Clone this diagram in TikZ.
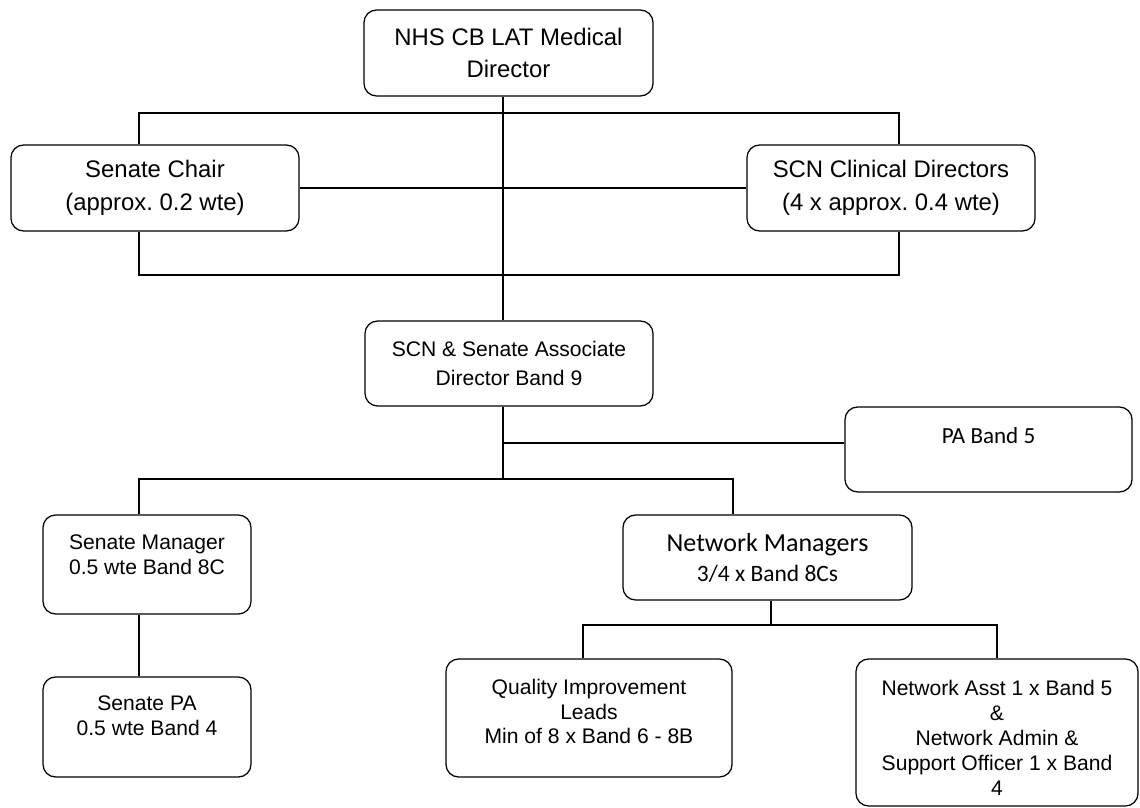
\documentclass[tikz,border=0pt]{standalone}
\usepackage{fontspec}
\setmainfont{Liberation Sans}
\newfontfamily\calibri{Carlito}
\usepackage{tikz}
\frenchspacing

\begin{document}
\begin{tikzpicture}[x=0.025cm, y=-0.025cm,
        box/.style={draw, rounded corners=9pt, line width=0.9pt, align=center},
        link/.style={line width=0.9pt}]
    \useasboundingbox (0,0) rectangle (1140,808);

    \node[box, minimum width=7.225cm, minimum height=2.15cm, font=\fontsize{17}{22.8}\selectfont] (md) at (508.5,53) {NHS CB LAT Medical\\Director};

    \node[box, minimum width=7.2cm, minimum height=2.15cm, font=\fontsize{17}{23.5}\selectfont] (chair) at (155,188) {Senate Chair\\(approx. 0.2 wte)};
    \node[box, minimum width=7.2cm, minimum height=2.15cm, font=\fontsize{17}{23.5}\selectfont] (cd) at (891,188) {SCN Clinical Directors\\(4 x approx. 0.4 wte)};

    \node[box, minimum width=7.2cm, minimum height=2.125cm, font=\fontsize{15}{20.6}\selectfont] (assoc) at (509,363.5) {SCN \& Senate Associate\\Director Band 9};

    \node[box, minimum width=7.175cm, minimum height=2.125cm] (pa) at (988.5,449.5) {};
    \node[font=\calibri\fontsize{16.4}{20}\selectfont] (pa-t) at ([yshift=0.3375cm]pa.center) {PA Band 5};

    \node[box, minimum width=5.2cm, minimum height=2.475cm] (sm) at (147,564.5) {};
    \node[font=\fontsize{15}{17.8}\selectfont, align=center] (sm-t) at ([yshift=0.25cm]sm.center) {Senate Manager\\0.5 wte Band 8C};

    \node[box, minimum width=7.225cm, minimum height=2.125cm, font=\calibri\fontsize{18.5}{21.3}\selectfont] (nm) at (767.5,557.5) {Network Managers\\{\fontsize{16.7}{21.3}\selectfont 3/4 x Band 8Cs}};

    \node[box, minimum width=5.2cm, minimum height=2.5cm] (spa) at (147,727) {};
    \node[font=\fontsize{15}{17.8}\selectfont, align=center] (spa-t) at ([yshift=0.275cm]spa.center) {Senate PA\\0.5 wte Band 4};

    \node[box, minimum width=7.15cm, minimum height=2.95cm] (qi) at (589,718) {};
    \node[font=\fontsize{15}{17.4}\selectfont, align=center] (qi-t) at ([yshift=0.1625cm]qi.center) {Quality Improvement\\Leads\\Min of 8 x Band 6 - 8B};

    \node[box, minimum width=7.05cm, minimum height=3.675cm] (na) at (997,732.5) {};
    \node[font=\fontsize{15}{17.8}\selectfont, align=center] (na-t) at ([yshift=-0.14cm]na.center) {Network Asst 1 x Band 5\\\&\\Network Admin \&\\Support Officer 1 x Band\\4};

    \coordinate (trunk) at (503,113);
    \coordinate (lstub) at (139,113);
    \coordinate (rstub) at (899,113);
    \coordinate (lbar) at (139,275);
    \coordinate (rbar) at (899,275);
    \coordinate (pabr) at (503,443);
    \coordinate (lowbar) at (503,479);
    \coordinate (smbr) at (139,479);
    \coordinate (nmbr) at (733,479);
    \coordinate (nmdown) at (771,625);
    \coordinate (qibr) at (583,625);
    \coordinate (nabr) at (997,625);

    \draw[link] (md.south -| trunk) -- (assoc.north -| trunk);
    \draw[link] (chair.north -| lstub) -- (lstub) -- (rstub) -- (cd.north -| rstub);
    \draw[link] (chair.east) -- (cd.west);
    \draw[link] (chair.south -| lbar) -- (lbar) -- (rbar) -- (cd.south -| rbar);
    \draw[link] (assoc.south -| trunk) -- (lowbar);
    \draw[link] (pabr) -- (pabr -| pa.west);
    \draw[link] (sm.north -| smbr) -- (smbr) -- (nmbr) -- (nm.north -| nmbr);
    \draw[link] (sm.south -| smbr) -- (spa.north -| smbr);
    \draw[link] (nm.south -| nmdown) -- (nmdown);
    \draw[link] (qi.north -| qibr) -- (qibr) -- (nabr) -- (na.north -| nabr);
\end{tikzpicture}
\end{document}
